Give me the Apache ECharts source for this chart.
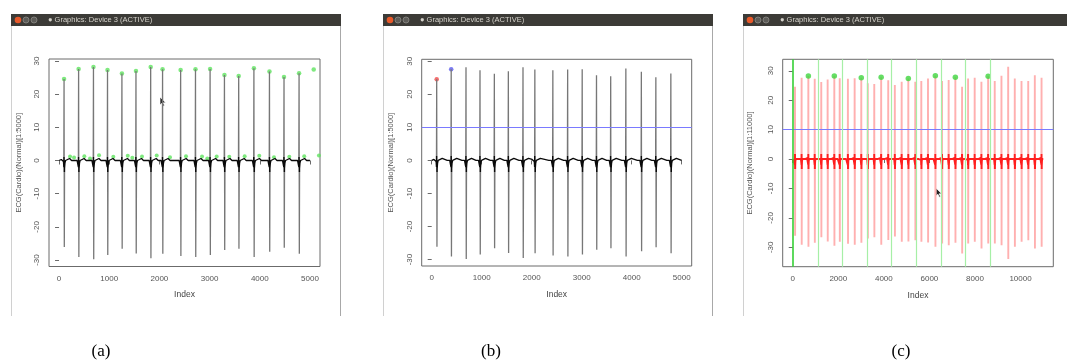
<!DOCTYPE html>
<html>
<head>
<meta charset="utf-8">
<script src="https://cdn.jsdelivr.net/npm/echarts@6/dist/echarts.min.js"></script>
<style>
  html, body { margin: 0; padding: 0; background: #ffffff; }
  #chart { width: 1067px; height: 363px; }
</style>
</head>
<body>
<div id="chart"></div>
<script>
// Sample index of each heartbeat's R peak
const beatIndex = [100, 390, 686, 966, 1253, 1533, 1826, 2063, 2423, 2719, 3010, 3296, 3580, 3883, 4193, 4483, 4783, 5075,
  5381, 5645, 5939, 6261, 6555, 6846, 7140, 7435, 7699, 7989, 8284, 8579, 8869, 9164, 9459, 9749, 10044, 10339, 10629, 10924];
// R peak amplitude of each beat
const rPeak = [24.6, 27.6, 28.2, 27.3, 26.2, 27.0, 28.2, 27.5, 27.3, 27.5, 27.6, 25.8, 25.5, 27.8, 26.8, 25.2, 26.3, 27.4,
  26.3, 26.5, 27.4, 28.3, 26.5, 26.9, 27.8, 24.6, 27.4, 27.6, 26.3, 28.1, 26.5, 28.3, 31.4, 27.4, 26.5, 26.5, 28.5, 27.6];
// S trough amplitude of each beat
const sTrough = [-26.1, -29.1, -29.8, -28.5, -26.6, -28.0, -29.5, -28.1, -28.8, -29.1, -28.5, -27.0, -26.6, -29.1, -27.5, -26.3, -28.1, -28.0,
  -27.6, -28.1, -28.4, -29.8, -28.7, -29.3, -28.5, -32.1, -28.7, -28.1, -30.4, -28.7, -28.7, -29.3, -34.0, -29.8, -28.1, -27.6, -30.4, -29.8];
// Baseline around a beat: [offset from R peak, level]
const beatLead = [[-80, 0], [-55, 0.3], [-30, 0], [-12, -0.3], [-5, -2.0]];
const sOffset = 5;
const beatTail = [[10, -2.4], [18, -0.8], [30, 0], [110, 0.6], [150, 0]];

// Detected small waves near the baseline, panel (a)
const waveIndex = [219, 299, 504, 618, 797, 1082, 1369, 1460, 1653, 1946, 2211, 2530, 2849, 2954, 3141, 3392, 3699, 3990, 4283, 4588, 4886, 5179];
const waveValue = [1.2, 0.9, 1.3, 0.6, 1.6, 1.1, 1.4, 0.8, 1.2, 1.5, 1.0, 1.3, 1.2, 0.6, 1.2, 1.1, 1.3, 1.4, 1.0, 1.1, 1.3, 1.5];
// Beats flagged in panel (c), 1-based
const flaggedBeats = [3, 7, 11, 14, 18, 22, 25, 30];
// Segment boundaries in panel (c)
const segmentStarts = [0, 1100, 2183, 3256, 4338, 5411, 6511, 7594, 8650];
const thresholdLevel = 10;

const shortLength = 5000;
const longLength = 11000;
const xTicksShort = [0, 1000, 2000, 3000, 4000, 5000];
const xTicksLong = [0, 2000, 4000, 6000, 8000, 10000];
const yTicks = [-30, -20, -10, 0, 10, 20, 30];

function buildTrace(n) {
  const pts = [[1, 0]];
  for (let i = 0; i < beatIndex.length; i++) {
    const b = beatIndex[i];
    if (b > n) break;
    const verts = beatLead.map(([dx, v]) => [b + dx, v])
      .concat([[b, rPeak[i]], [b + sOffset, sTrough[i]]])
      .concat(beatTail.map(([dx, v]) => [b + dx, v]));
    verts.forEach(p => { if (p[0] > 1 && p[0] < n) pts.push(p); });
  }
  pts.push([n, 0]);
  return pts;
}

const traceShort = buildTrace(shortLength);
const traceLong = buildTrace(longLength);
const peakPoints = beatIndex.map((b, i) => [b, rPeak[i]]);
const wavePoints = waveIndex.map((x, i) => [x, waveValue[i]]);
const flaggedPoints = flaggedBeats.map(k => [beatIndex[k - 1], rPeak[k - 1]]);

const FONT = 'Liberation Sans';
const frameColor = '#6b6b6b';
const plain = v => String(v);

function xAxisCfg(grid, min, max, ticks) {
  return {
    type: 'value', gridIndex: grid, min: min, max: max,
    name: 'Index', nameLocation: 'middle', nameGap: 24,
    nameTextStyle: { fontFamily: FONT, fontSize: 8.5, color: '#444' },
    axisLine: { show: false },
    splitLine: { show: false },
    axisTick: { show: true, length: 4, customValues: ticks, lineStyle: { color: frameColor } },
    axisLabel: { customValues: ticks, formatter: plain, fontFamily: FONT, fontSize: 8, color: '#555', margin: 8 }
  };
}
function yAxisCfg(grid, min, max, name, gap) {
  return {
    type: 'value', gridIndex: grid, min: min, max: max,
    name: name, nameLocation: 'middle', nameGap: gap, nameRotate: 90,
    nameTextStyle: { fontFamily: FONT, fontSize: 7.5, color: '#555' },
    axisLine: { show: false },
    splitLine: { show: false },
    axisTick: { show: true, length: 4, customValues: yTicks, lineStyle: { color: frameColor } },
    axisLabel: { customValues: yTicks, formatter: plain, rotate: 90, fontFamily: FONT, fontSize: 8, color: '#555', margin: 8 }
  };
}
const gridStyle = { show: true, borderColor: frameColor, borderWidth: 1, backgroundColor: 'transparent' };

// Window chrome around each device
function windowChrome(x0, x1) {
  const w = x1 - x0;
  return [
    { type: 'rect', shape: { x: x0, y: 14, width: w, height: 12 }, style: { fill: '#3c3b37' } },
    { type: 'line', shape: { x1: x0 + 0.5, y1: 26, x2: x0 + 0.5, y2: 316 }, style: { stroke: '#d0d0d0', lineWidth: 1 } },
    { type: 'line', shape: { x1: x1 - 0.5, y1: 26, x2: x1 - 0.5, y2: 316 }, style: { stroke: '#a8a8a8', lineWidth: 1 } },
    { type: 'circle', shape: { cx: x0 + 7, cy: 20, r: 3.3 }, style: { fill: '#e8592a' } },
    { type: 'circle', shape: { cx: x0 + 15, cy: 20, r: 3 }, style: { fill: '#5d5c58', stroke: '#8d8c87', lineWidth: 0.8 } },
    { type: 'circle', shape: { cx: x0 + 23, cy: 20, r: 3 }, style: { fill: '#5d5c58', stroke: '#8d8c87', lineWidth: 0.8 } },
    { type: 'text', x: x0 + 37, y: 20, style: { text: '\u25CF Graphics: Device 3 (ACTIVE)', fill: '#d6d3cc',
      font: '7.5px "Liberation Sans"', verticalAlign: 'middle', align: 'left' } }
  ];
}
function cursor(x, y) {
  return { type: 'polygon', x: x, y: y,
    shape: { points: [[0, 0], [0, 8], [1.9, 6.2], [3.3, 9.2], [4.5, 8.6], [3.2, 5.8], [5.7, 5.8]] },
    style: { fill: '#222', stroke: '#fff', lineWidth: 0.7 } };
}
function caption(x, t) {
  return { type: 'text', x: x, y: 352, style: { text: t, fill: '#000', font: '17px "Liberation Serif"',
    align: 'center', verticalAlign: 'middle' } };
}
const thresholdLine = { yAxis: thresholdLevel, lineStyle: { color: '#7a7aff', width: 1.2, type: 'solid' } };

const chart = echarts.init(document.getElementById('chart'), null, { renderer: 'canvas' });
chart.setOption({
  animation: false,
  backgroundColor: '#ffffff',
  grid: [
    Object.assign({ left: 49, top: 59, width: 271, height: 207.5 }, gridStyle),
    Object.assign({ left: 421.7, top: 59.3, width: 270, height: 206.7 }, gridStyle),
    Object.assign({ left: 782.7, top: 59.3, width: 270.6, height: 207.4 }, gridStyle)
  ],
  xAxis: [
    xAxisCfg(0, -200, 5200, xTicksShort),
    xAxisCfg(1, -200, 5200, xTicksShort),
    xAxisCfg(2, -440, 11440, xTicksLong)
  ],
  yAxis: [
    yAxisCfg(0, -31.95, 30.6, 'ECG(Cardio)(Normal)[1:5000]', 26),
    yAxisCfg(1, -31.95, 30.6, 'ECG(Cardio)(Normal)[1:5000]', 27),
    yAxisCfg(2, -36.6, 33.9, 'ECG(Cardio)(Normal)[1:11000]', 29)
  ],
  visualMap: [
    { type: 'piecewise', show: false, seriesIndex: 0, dimension: 1,
      pieces: [{ gte: -3.4, lte: 1.2, color: '#0a0a0a' }], outOfRange: { color: '#777777' } },
    { type: 'piecewise', show: false, seriesIndex: 3, dimension: 1,
      pieces: [{ gte: -3.4, lte: 1.2, color: '#0a0a0a' }], outOfRange: { color: '#777777' } },
    { type: 'piecewise', show: false, seriesIndex: 6, dimension: 1,
      pieces: [{ gte: -3.4, lte: 1.6, color: '#ff1f1f' }], outOfRange: { color: '#ffb0b0' } }
  ],
  series: [
    { type: 'line', xAxisIndex: 0, yAxisIndex: 0, data: traceShort, showSymbol: false, silent: true,
      lineStyle: { width: 1.3 }, clip: true },
    { type: 'scatter', xAxisIndex: 0, yAxisIndex: 0, data: peakPoints, symbolSize: 4.5, silent: true,
      itemStyle: { color: '#5fe45f' } },
    { type: 'scatter', xAxisIndex: 0, yAxisIndex: 0, data: wavePoints, symbolSize: 4, silent: true,
      itemStyle: { color: '#5fe45f' } },

    { type: 'line', xAxisIndex: 1, yAxisIndex: 1, data: traceShort, showSymbol: false, silent: true,
      lineStyle: { width: 1.3 }, clip: true },
    { type: 'scatter', xAxisIndex: 1, yAxisIndex: 1, data: [peakPoints[0]], symbolSize: 4.5, silent: true,
      itemStyle: { color: '#f04a4a' } },
    { type: 'scatter', xAxisIndex: 1, yAxisIndex: 1, data: [peakPoints[1]], symbolSize: 4.5, silent: true,
      itemStyle: { color: '#5a5aee' } },

    { type: 'line', xAxisIndex: 2, yAxisIndex: 2, data: traceLong, showSymbol: false, silent: true,
      lineStyle: { width: 1.9 }, clip: true },
    { type: 'scatter', xAxisIndex: 2, yAxisIndex: 2, data: flaggedPoints, symbolSize: 5.5, silent: true,
      itemStyle: { color: '#3fd63f' }, z: 4 },

    // reference lines drawn over the traces
    { type: 'line', xAxisIndex: 1, yAxisIndex: 1, data: [], z: 3,
      markLine: { silent: true, symbol: 'none', label: { show: false }, data: [thresholdLine] } },
    { type: 'line', xAxisIndex: 2, yAxisIndex: 2, data: [], z: 3,
      markLine: { silent: true, symbol: 'none', label: { show: false },
        data: [thresholdLine].concat(segmentStarts.map((s, i) => ({ xAxis: s,
          lineStyle: { color: i === 0 ? '#35d035' : '#a6efa6', width: i === 0 ? 1.6 : 1.2, type: 'solid' } }))) } }
  ],
  graphic: {
    elements: []
      .concat(windowChrome(11, 341))
      .concat(windowChrome(383, 713))
      .concat(windowChrome(743, 1075))
      .concat([cursor(160, 97), cursor(936, 188)])
      .concat([caption(101, '(a)'), caption(491, '(b)'), caption(901, '(c)')])
  }
});
</script>
</body>
</html>
